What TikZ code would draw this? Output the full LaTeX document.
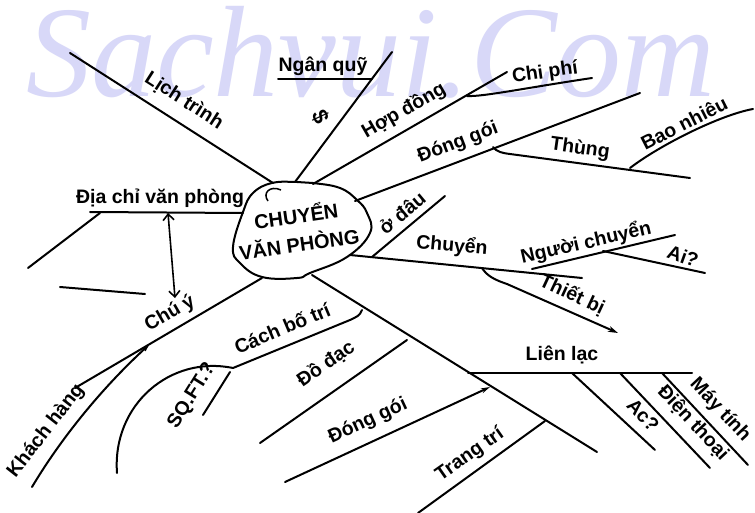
\documentclass[tikz,border=0pt]{standalone}
\usepackage{fontspec}
\setmainfont{Liberation Sans}
\newfontfamily\wmfont{Liberation Serif}
\usetikzlibrary{arrows.meta}
\definecolor{wm}{RGB}{216,216,248}
\begin{document}
\begin{tikzpicture}[x=1pt,y=-1pt,
  br/.style={line width=2pt, line cap=round, line join=round},
  lbl/.style={font=\bfseries\fontsize{19.5}{19.5}\selectfont, inner sep=0pt},
  ctext/.style={font=\bfseries\fontsize{20}{20}\selectfont, inner sep=0pt}]
\useasboundingbox (0,0) rectangle (755,513);
\fill[white] (0,0) rectangle (755,513);
% watermark
\node[anchor=base west, text=wm, font=\wmfont\itshape\fontsize{130}{130}\selectfont, inner sep=0pt] (wmk) at (26,97) {Sachvui.Com};

% central blob
\coordinate (hub) at (300,230);
\draw[br] plot[smooth cycle, tension=0.7] coordinates {(243,212) (253,193) (272,183) (297,182) (313,183) (340,188) (357,200) (367,213) (370,233) (347,257) (310,273) (297,278) (262,277) (240,263) (233,247)};
\coordinate (hk1) at (281,190); \coordinate (hk2) at (268,201);
\draw[line width=1.5pt] (hk1) .. controls (270,185) and (262,193) .. (hk2);
\node[ctext, rotate=8] (c1) at (296,215) {CHUYỂN};
\node[ctext, rotate=8] (c2) at (299,243) {VĂN PHÒNG};

% coordinates
\coordinate (LT1) at (273,183); \coordinate (LT2) at (70,53);
\coordinate (NQ1) at (295,182); \coordinate (NQ2) at (392,52);
\coordinate (NQu1) at (278,79); \coordinate (NQu2) at (372,79);
\coordinate (HD1) at (313,184); \coordinate (HD2) at (507,72);
\coordinate (HDj) at (467,96); \coordinate (CP2) at (592,78);
\coordinate (DG1) at (355,201); \coordinate (DG2) at (640,93);
\coordinate (TH1) at (493,147); \coordinate (TH2) at (690,178);
\coordinate (BN1) at (630,168); \coordinate (BN2) at (753,109);
\coordinate (OD1) at (372,257); \coordinate (OD2) at (445,196);
\coordinate (CH1) at (350,255); \coordinate (CH2) at (582,278);
\coordinate (NC1) at (532,269); \coordinate (NC2) at (675,235);
\coordinate (AI1) at (603,251); \coordinate (AI2) at (705,273);
\coordinate (TB1) at (482,268); \coordinate (TB2) at (618,333);
\coordinate (M1) at (312,275); \coordinate (M2) at (597,452);
\coordinate (LL1) at (468,373); \coordinate (LL2) at (692,373);
\coordinate (AC1) at (572,373); \coordinate (AC2) at (655,450);
\coordinate (DT1) at (620,373); \coordinate (DT2) at (710,468);
\coordinate (MT1) at (662,373); \coordinate (MT2) at (748,465);
\coordinate (TT1) at (545,421); \coordinate (TT2) at (418,513);
\coordinate (DG3) at (490,387); \coordinate (DG4) at (285,482);
\coordinate (DD1) at (407,340); \coordinate (DD2) at (260,443);
\coordinate (CB1) at (362,310); \coordinate (CB2) at (233,368);
\coordinate (SQ2) at (117,473);
\coordinate (SB1) at (230,372); \coordinate (SB2) at (203,415);
\coordinate (CY1) at (262,278); \coordinate (CY2) at (75,388);
\coordinate (KH1) at (32,487); \coordinate (KH2) at (152,342);
\coordinate (DC1) at (243,213); \coordinate (DC2) at (90,212);
\coordinate (DC3) at (100,213); \coordinate (DC4) at (28,268);
\coordinate (AR1) at (168,213); \coordinate (AR2) at (175,298);
\coordinate (FL1) at (60,287); \coordinate (FL2) at (145,294);

% branches
\draw[br] (LT1) -- (LT2);
\draw[br] (NQ1) -- (NQ2);
\draw[br] (NQu1) -- (NQu2);
\draw[br] (HD1) -- (HD2);
\draw[br] (HDj) .. controls (482,97) and (525,88) .. (CP2);
\draw[br] (DG1) -- (DG2);
\draw[br] (TH1) .. controls (497,152) and (502,153) .. (510,154) -- (TH2);
\draw[br] (BN1) .. controls (660,145) and (720,115) .. (BN2);
\draw[br] (OD1) -- (OD2);
\draw[br] (CH1) -- (CH2);
\draw[br] (NC1) -- (NC2);
\draw[br] (AI1) -- (AI2);
\draw[br, -{Stealth[length=10pt,width=6pt]}] (TB1) .. controls (487,276) and (495,280) .. (507,284) -- (TB2);
\draw[br] (M1) -- (M2);
\draw[br] (LL1) -- (LL2);
\draw[br] (AC1) -- (AC2);
\draw[br] (DT1) -- (DT2);
\draw[br] (MT1) -- (MT2);
\draw[br] (TT1) -- (TT2);
\draw[br, -{Stealth[length=9pt,width=5pt]}] (DG4) -- (DG3);
\draw[br] (DD1) -- (DD2);
\draw[br] (CB1) .. controls (360,316) and (356,317) .. (350,320) -- (CB2);
\draw[br] (CB2) .. controls (170,355) and (112,405) .. (SQ2);
\draw[br] (SB1) -- (SB2);
\draw[br] (CY1) -- (CY2);
\draw[br, -{Latex[open,length=11pt,width=5pt]}] (KH1) .. controls (60,440) and (100,390) .. (KH2);
\draw[br] (DC1) -- (DC2);
\draw[br] (DC3) -- (DC4);
\draw[line width=1.6pt, {Straight Barb[length=6pt,width=11pt]}-{Straight Barb[length=6pt,width=11pt]}] (AR1) -- (AR2);
\draw[br] (FL1) -- (FL2);

% labels
\node[lbl, rotate=-32.6] (l1) at (184,101) {Lịch trình};
\node[lbl] (l2) at (323,66) {Ngân quỹ};
\node[lbl, rotate=-65, font=\bfseries\fontsize{22}{22}\selectfont] (l3) at (321,117) {\$};
\node[lbl, rotate=30] (l4) at (404,111) {Hợp đồng};
\node[lbl, rotate=8] (l5) at (545,73) {Chi phí};
\node[lbl, rotate=21] (l6) at (458,143) {Đóng gói};
\node[lbl, rotate=-8] (l7) at (580,149) {Thùng};
\node[lbl, rotate=27] (l8) at (684,123) {Bao nhiêu};
\node[lbl, rotate=40] (l9) at (402,213) {ở đâu};
\node[lbl, rotate=-5] (l10) at (452,246) {Chuyển};
\node[lbl, rotate=13] (l11) at (586,243) {Người chuyển};
\node[lbl, rotate=-20] (l12) at (683,256) {Ai?};
\node[lbl, rotate=-25] (l13) at (572,295) {Thiết bị};
\node[lbl] (l14) at (562,355) {Liên lạc};
\node[lbl, rotate=-47] (l15) at (643,415) {Ac?};
\node[lbl, rotate=-47] (l16) at (693,423) {Điện thoại};
\node[lbl, rotate=-47] (l17) at (720,410) {Máy tính};
\node[lbl, rotate=35] (l18) at (470,455) {Trang trí};
\node[lbl, rotate=25] (l19) at (368,421) {Đóng gói};
\node[lbl, rotate=35] (l20) at (326,364) {Đồ đạc};
\node[lbl, rotate=23] (l21) at (282,328) {Cách bố trí};
\node[lbl, rotate=58] (l22) at (192,396) {SQ.FT.?};
\node[lbl, rotate=30] (l23) at (170,314) {Chú ý};
\node[lbl, rotate=52] (l24) at (46,431) {Khách hàng};
\node[lbl] (l25) at (160,198) {Địa chỉ văn phòng};
\end{tikzpicture}
\end{document}
